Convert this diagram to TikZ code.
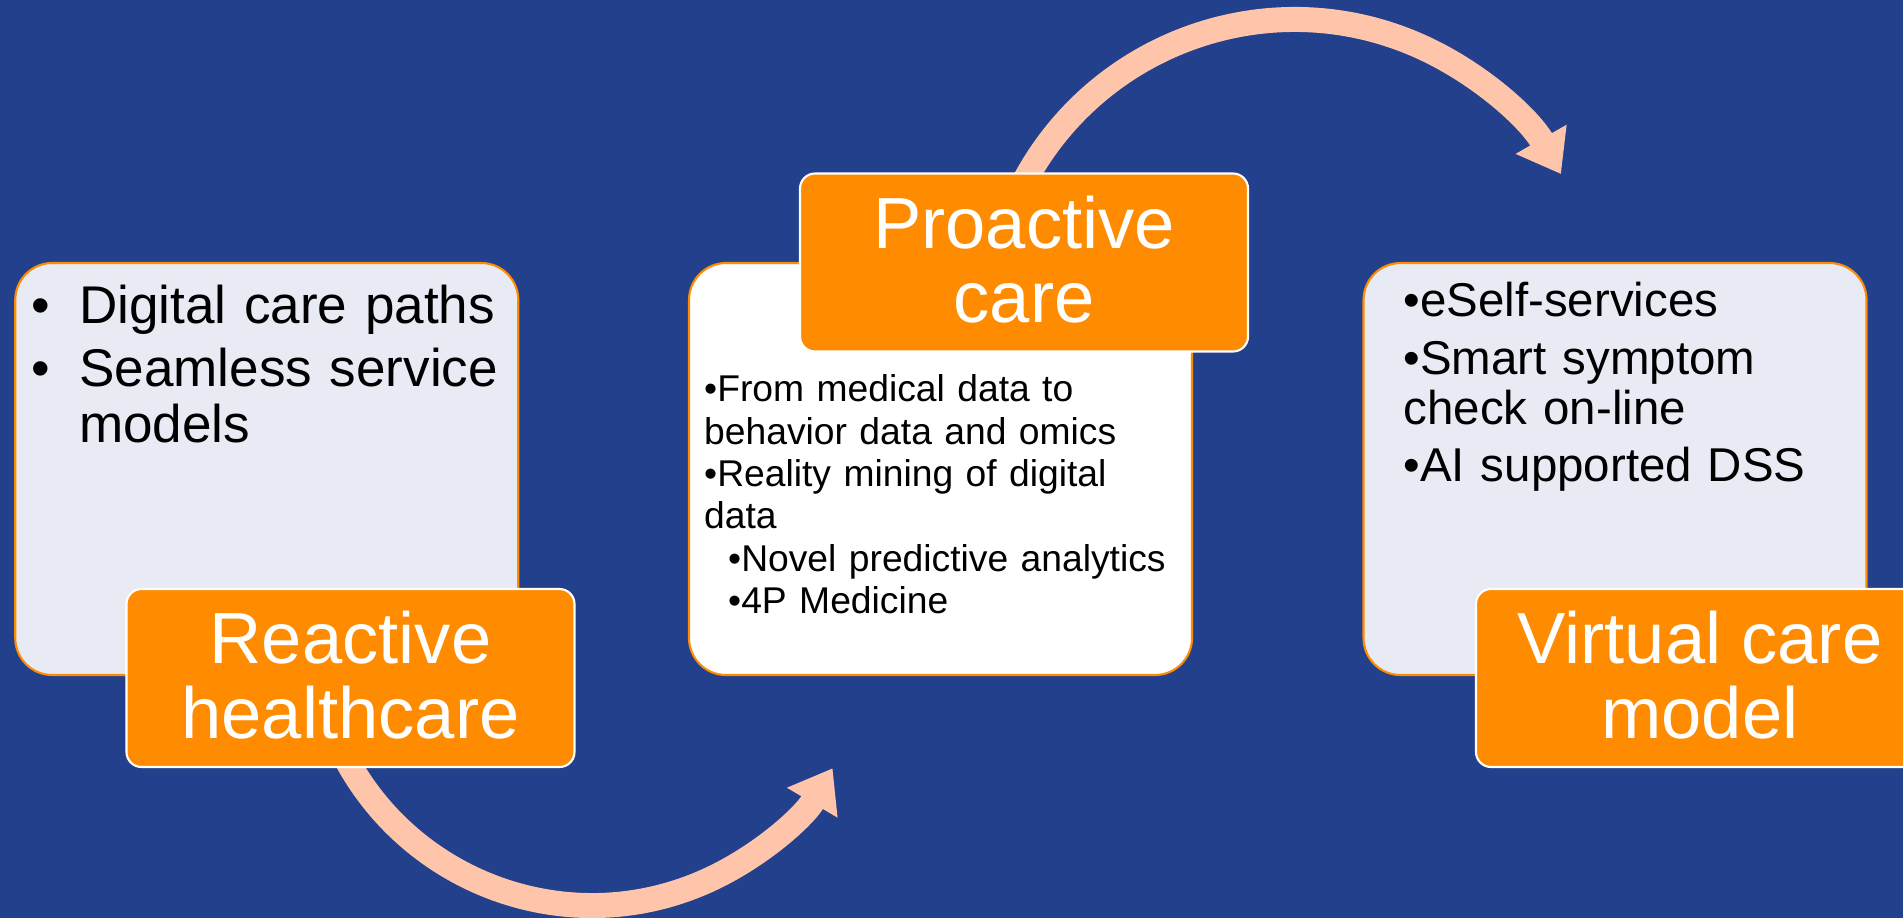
\documentclass[tikz,border=0pt]{standalone}
\usepackage{fontspec}
\setmainfont{Liberation Sans}
\usepackage{tikz}
\usetikzlibrary{arrows.meta}

\definecolor{slideblue}{RGB}{35,64,140}
\definecolor{tagorange}{RGB}{255,139,0}
\definecolor{panelgray}{RGB}{232,235,244}
\definecolor{arcpeach}{RGB}{255,197,171}

% a little depth under the last heading line lifts the text
\newcommand{\taglift}{\rule[-0.064cm]{0pt}{0.064cm}}

\begin{document}
\begin{tikzpicture}[
    panel/.style={draw=tagorange, line width=0.6pt, rounded corners=0.37cm, minimum width=5.03cm, minimum height=4.12cm},
    tag/.style={draw=white, line width=0.6pt, fill=tagorange, rounded corners=0.15cm, minimum width=4.48cm, minimum height=1.78cm, align=center, text=white, font=\fontsize{20.6pt}{21.3pt}\selectfont},
    bullets/.style={anchor=base west, inner sep=0pt, align=left, text width=#1},
    cyclearc/.style={draw=arcpeach, line width=0.25cm, -{Triangle[width=5.6mm, length=4mm]}}
]
    \useasboundingbox (0,0) rectangle (19.03,9.17);
    \fill[slideblue] (-0.2,-0.2) rectangle (19.23,9.37);

    % curved arrows, under the boxes
    \coordinate (lowfrom) at (3.387,1.729);
    \coordinate (highfrom) at (10.167,7.204);
    \draw[cyclearc] (lowfrom) arc[start angle=205, end angle=329.4, radius=2.795];
    \draw[cyclearc] (highfrom) arc[start angle=155, end angle=29.75, radius=3.067];

    % panels
    \node[panel, fill=panelgray] at (2.6675,4.48) (reactpanel) {};
    \node[panel, fill=white] at (9.405,4.48) (propanel) {};
    \node[panel, fill=panelgray] at (16.15,4.48) (virtpanel) {};

    % orange tags
    \node[tag] at (3.505,2.39) (reactive) {Reactive\\healthcare\taglift};
    \node[tag] at (10.24,6.545) (proactive) {Proactive\\care\taglift};
    \node[tag] at (17.0,2.39) (virtual) {Virtual care\\model\taglift};

    % bullet texts
    \node[bullets=4.85cm, font=\fontsize{15.1pt}{15.86pt}\selectfont] at (0.307,5.94) (reactlist)
        {\makebox[0.478cm][l]{•}Digital care paths\\[0.08cm]\makebox[0.478cm][l]{•}Seamless service\\\hspace*{0.478cm}models};
    \node[bullets=4.85cm, font=\fontsize{10.6pt}{12.07pt}\selectfont] at (7.035,5.153) (prolist)
        {•From medical data to\\behavior data and omics\\•Reality mining of digital\\data\\\hspace*{0.24cm}•Novel predictive analytics\\\hspace*{0.24cm}•4P Medicine};
    \node[bullets=4.6cm, font=\fontsize{13.5pt}{14.2pt}\selectfont] at (14.03,6.003) (virtlist)
        {•eSelf-services\\[0.075cm]•Smart symptom\\check on-line\\[0.075cm]•AI supported DSS};
\end{tikzpicture}
\end{document}
